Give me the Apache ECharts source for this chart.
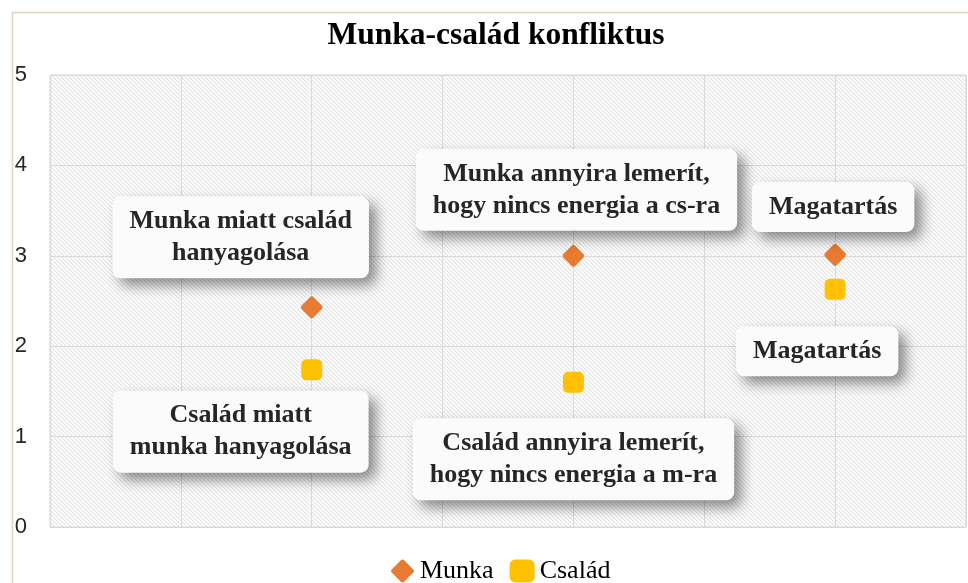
<!DOCTYPE html>
<html>
<head>
<meta charset="utf-8">
<script src="https://cdn.jsdelivr.net/npm/echarts@6/dist/echarts.min.js"></script>
<style>
html,body{margin:0;padding:0;background:#fff;}
#chart{width:968px;height:583px;}
</style>
</head>
<body>
<div id="chart"></div>
<script>
// ---- data ----
const titleText = 'Munka-család konfliktus';
const seriesNames = ['Munka', 'Család'];
const xValues = [1, 2, 3];
const munkaValues = [2.43, 3.0, 3.01];
const csaladValues = [1.74, 1.6, 2.63];
const munkaLabels = ['Munka miatt család\nhanyagolása', 'Munka annyira lemerít,\nhogy nincs energia a cs-ra', 'Magatartás'];
const csaladLabels = ['Család miatt\nmunka hanyagolása', 'Család annyira lemerít,\nhogy nincs energia a m-ra', 'Magatartás'];

// ---- layout (label placement relative to its point) ----
const munkaLabelOffsets = [[-71, -70], [3, -66], [-2, -48]];
const csaladLabelOffsets = [[-71, 62], [0, 77], [-18, 62]];

const serif = '"Liberation Serif", "Times New Roman", serif';

// hatch pattern: thin "\" diagonals
const pc = document.createElement('canvas');
pc.width = 4; pc.height = 4;
const g = pc.getContext('2d');
g.fillStyle = '#ffffff';
g.fillRect(0, 0, 4, 4);
for (let i = 0; i < 4; i++) {
  g.fillStyle = '#e0e0e0';
  g.fillRect(i, i, 1, 1);
  g.fillStyle = '#f3f3f3';
  g.fillRect((i + 1) % 4, i, 1, 1);
}

const diamondPath = 'path://M8.5,1.5 Q10,0 11.5,1.5 L18.5,8.5 Q20,10 18.5,11.5 L11.5,18.5 Q10,20 8.5,18.5 L1.5,11.5 Q0,10 1.5,8.5 Z';

const labelBase = {
  show: true,
  position: 'inside',
  align: 'center',
  verticalAlign: 'middle',
  fontFamily: serif,
  fontWeight: 'bold',
  fontSize: 26,
  lineHeight: 32,
  color: '#262626',
  backgroundColor: '#fbfbfb',
  borderRadius: 8,
  padding: [9, 17],
  shadowColor: 'rgba(0,0,0,0.45)',
  shadowBlur: 14,
  shadowOffsetX: 7,
  shadowOffsetY: 7
};

function buildData(values, labels, offsets) {
  return xValues.map((x, i) => ({
    value: [x, values[i]],
    label: Object.assign({}, labelBase, {
      formatter: labels[i],
      offset: offsets[i]
    })
  }));
}

const chart = echarts.init(document.getElementById('chart'));
chart.setOption({
  animation: false,
  backgroundColor: '#ffffff',
  graphic: [{
    type: 'rect',
    left: 10, top: 10,
    shape: { width: 1000, height: 1000 },
    style: { fill: 'none', stroke: '#ddd5bd', lineWidth: 1.5 },
    z: -10
  }],
  title: {
    text: titleText,
    left: 491,
    textAlign: 'center',
    top: 15,
    textStyle: { fontFamily: serif, fontWeight: 'bold', fontSize: 31.5, color: '#000' }
  },
  legend: {
    left: 386,
    top: 553,
    itemWidth: 25,
    itemHeight: 23,
    itemGap: 16,
    textStyle: { fontFamily: serif, fontSize: 26, color: '#000' },
    data: seriesNames
  },
  grid: {
    left: 50, right: 2, top: 75, bottom: 56,
    show: true,
    backgroundColor: { image: pc, repeat: 'repeat' },
    borderColor: '#d9d9d9',
    borderWidth: 1
  },
  xAxis: {
    type: 'value', min: 0, max: 3.5, interval: 0.5,
    axisLine: { show: false }, axisTick: { show: false }, axisLabel: { show: false },
    splitLine: { show: true, lineStyle: { color: '#d9d9d9', width: 1 } }
  },
  yAxis: {
    type: 'value', min: 0, max: 5, interval: 1,
    axisLine: { show: false }, axisTick: { show: false },
    axisLabel: { margin: 23, fontFamily: '"Liberation Sans", Arial, sans-serif', fontSize: 22, color: '#262626' },
    splitLine: { show: true, lineStyle: { color: '#d9d9d9', width: 1 } }
  },
  series: [
    {
      name: seriesNames[0], type: 'scatter', symbol: diamondPath, symbolSize: 22,
      itemStyle: { color: '#e97a31', opacity: 1 },
      data: buildData(munkaValues, munkaLabels, munkaLabelOffsets),
      z: 3
    },
    {
      name: seriesNames[1], type: 'scatter', symbol: 'roundRect', symbolSize: 21,
      itemStyle: { color: '#ffc000', opacity: 1 },
      data: buildData(csaladValues, csaladLabels, csaladLabelOffsets),
      z: 3
    }
  ]
});
</script>
</body>
</html>
